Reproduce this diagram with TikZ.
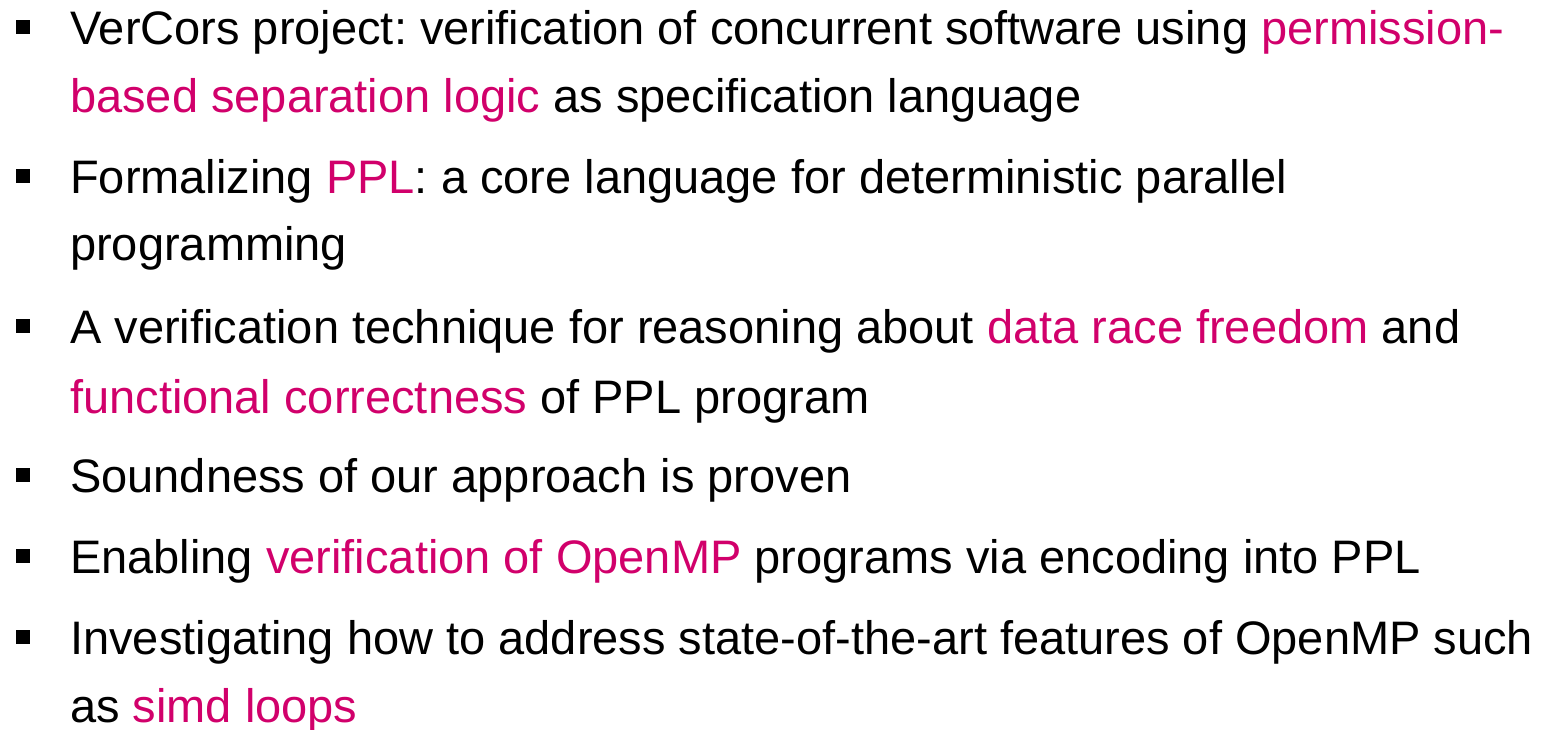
\documentclass[tikz,border=0pt]{standalone}
\usepackage{fontspec}
\setmainfont{Liberation Sans}
\definecolor{hl}{HTML}{D1006B}
\newcommand{\hlt}[1]{\textcolor{hl}{#1}}
\frenchspacing
\begin{document}
\begin{tikzpicture}[x=1pt,y=-1pt,
  txt/.style={anchor=base west, inner sep=0pt, font=\fontsize{47}{57}\selectfont},
  bul/.style={fill=black, minimum size=14pt, inner sep=0pt, draw=none}]
\useasboundingbox (0,0) rectangle (1558,729);
% bullets
\node[bul] (b1) at (23,27) {};
\node[bul] (b2) at (23,176) {};
\node[bul] (b3) at (23,326) {};
\node[bul] (b4) at (23,475) {};
\node[bul] (b5) at (23,556) {};
\node[bul] (b6) at (23,637) {};
% text lines
\node[txt] (l1) at (70,44) {VerCors project: verification of concurrent software using \hlt{permission-}};
\node[txt] (l2) at (70,112) {\hlt{based separation logic} as specification language};
\node[txt] (l3) at (70,193) {Formalizing \hlt{PPL}: a core language for deterministic parallel};
\node[txt] (l4) at (70,260) {programming};
\node[txt] (l5) at (70,343) {A verification technique for reasoning about \hlt{data race freedom} and};
\node[txt] (l6) at (70,413) {\hlt{functional correctness} of PPL program};
\node[txt] (l7) at (70,492) {Soundness of our approach is proven};
\node[txt] (l8) at (70,573) {Enabling \hlt{verification of OpenMP} programs via encoding into PPL};
\node[txt] (l9) at (70,654) {Investigating how to address state-of-the-art features of OpenMP such};
\node[txt] (l10) at (70,722) {as \hlt{simd loops}};
\end{tikzpicture}
\end{document}
